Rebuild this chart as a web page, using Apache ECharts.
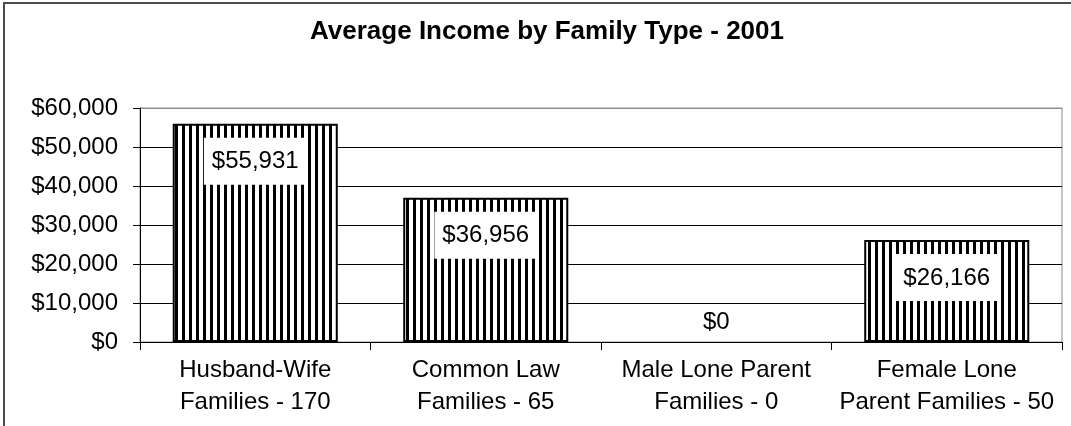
<!DOCTYPE html>
<html>
<head>
<meta charset="utf-8">
<title>Average Income by Family Type - 2001</title>
<script src="https://cdn.jsdelivr.net/npm/echarts@6/dist/echarts.min.js"></script>
<style>
  html, body { margin: 0; padding: 0; background: #fff; }
  #chart { width: 1071px; height: 426px; }
</style>
</head>
<body>
<div id="chart"></div>
<script>
// Family types with the number of families in each
const categories = [
  'Husband-Wife\nFamilies - 170',
  'Common Law\nFamilies - 65',
  'Male Lone Parent\nFamilies - 0',
  'Female Lone\nParent Families - 50'
];
// Average income per family type (dollars)
const incomes = [55931, 36956, 0, 26166];
// Value axis range
const yMin = 0;
const yMax = 60000;
const yStep = 10000;

const FONT = '"Liberation Sans", Arial, sans-serif';

function dollars(v) {
  return '$' + Number(v).toLocaleString('en-US');
}

// Vertical stripe fill for the bars
function stripePattern() {
  const c = document.createElement('canvas');
  c.width = 7;
  c.height = 4;
  const ctx = c.getContext('2d');
  ctx.fillStyle = '#fff';
  ctx.fillRect(0, 0, 7, 4);
  ctx.fillStyle = '#000';
  ctx.fillRect(0, 0, 3, 4);
  return c;
}

const chart = echarts.init(document.getElementById('chart'), null, { renderer: 'canvas' });

const valueLabel = {
  show: true,
  position: 'insideTop',
  distance: 14,
  formatter: p => dollars(p.value),
  fontFamily: FONT,
  fontSize: 24,
  lineHeight: 24,
  color: '#000',
  backgroundColor: '#fff',
  padding: [12, 8, 11, 8]
};

// An empty bar shows only its value label, sitting just above the axis
const seriesData = incomes.map(v => v === 0
  ? {
      value: v,
      itemStyle: { borderWidth: 0, color: 'transparent' },
      label: { position: 'top', distance: 8, backgroundColor: 'transparent', padding: 0 }
    }
  : v);

chart.setOption({
  animation: false,
  backgroundColor: '#fff',
  title: {
    text: 'Average Income by Family Type - 2001',
    left: 542,
    top: 14,
    textAlign: 'center',
    textStyle: { fontFamily: FONT, fontSize: 26, fontWeight: 'bold', color: '#000' }
  },
  graphic: [{
    type: 'rect',
    shape: { x: 4, y: 3, width: 1100, height: 460 },
    style: { fill: 'none', stroke: '#4d4d4d', lineWidth: 2 },
    silent: true,
    z: 100
  }],
  grid: {
    left: 140,
    right: 9,
    top: 108,
    bottom: 84,
    show: true,
    borderColor: '#8c8c8c',
    borderWidth: 1,
    containLabel: false
  },
  xAxis: {
    type: 'category',
    data: categories,
    boundaryGap: true,
    axisLine: { show: true, lineStyle: { color: '#000', width: 1 } },
    axisTick: { show: true, alignWithLabel: false, length: 8, lineStyle: { color: '#000' } },
    axisLabel: {
      fontFamily: FONT,
      fontSize: 24,
      lineHeight: 32,
      color: '#000',
      margin: 12,
      interval: 0
    },
    splitLine: { show: false }
  },
  yAxis: {
    type: 'value',
    min: yMin,
    max: yMax,
    interval: yStep,
    axisLine: { show: true, lineStyle: { color: '#000', width: 1 } },
    axisTick: { show: true, length: 7, lineStyle: { color: '#000' } },
    axisLabel: {
      fontFamily: FONT,
      fontSize: 24,
      color: '#000',
      margin: 22,
      formatter: v => dollars(v)
    },
    splitLine: {
      show: true,
      lineStyle: { color: ['#000', '#000', '#000', '#000', '#000', '#000', '#8c8c8c'], width: 1 }
    }
  },
  series: [{
    type: 'bar',
    data: seriesData,
    barWidth: '71.6%',
    itemStyle: {
      color: { image: stripePattern(), repeat: 'repeat' },
      borderColor: '#000',
      borderWidth: 2
    },
    label: valueLabel,
    emphasis: { disabled: true }
  }]
});
</script>
</body>
</html>
